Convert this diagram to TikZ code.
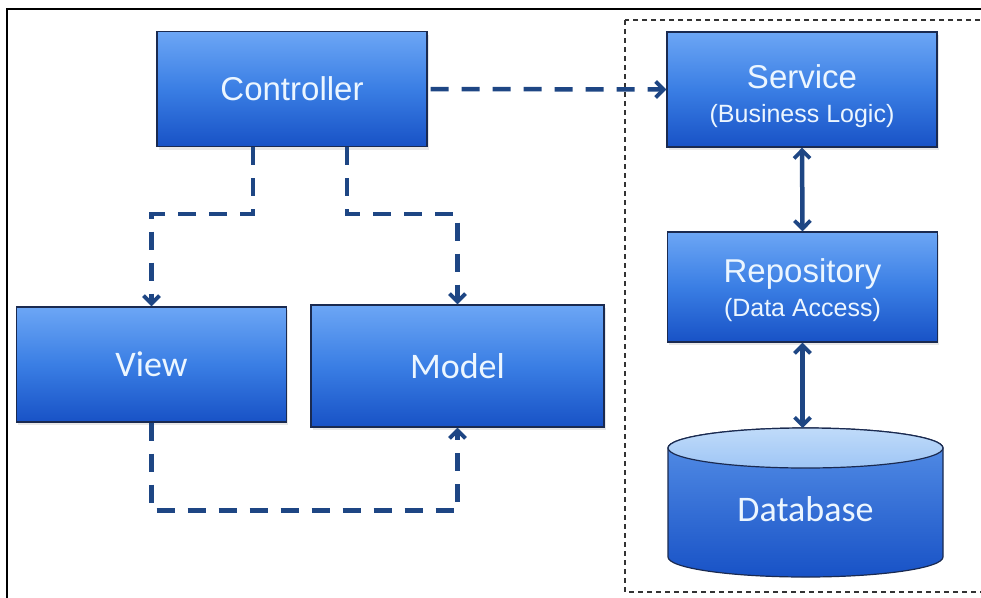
\documentclass[tikz,border=0pt]{standalone}
\usepackage{fontspec}
\setmainfont{Liberation Sans}
\newfontfamily\calfont{Carlito}
\usetikzlibrary{arrows.meta,shadows}

\definecolor{boxtop}{RGB}{108,166,245}
\definecolor{boxmid}{RGB}{58,126,228}
\definecolor{boxbot}{RGB}{24,82,198}
\definecolor{boxline}{RGB}{26,42,80}
\definecolor{linkblue}{RGB}{30,70,132}
\definecolor{labeltxt}{RGB}{236,246,255}
\definecolor{dbcap}{RGB}{176,210,248}

\tikzset{
  layer/.style={rectangle, draw=boxline, line width=1.4pt,
    top color=boxtop, bottom color=boxbot, middle color=boxmid,
    text=labeltxt, align=center, inner sep=0pt,
    minimum width=270pt, minimum height=115pt,
    drop shadow={opacity=0.18, shadow xshift=1.5pt, shadow yshift=-3pt}},
  bigtxt/.style={font=\fontsize{33}{36}\selectfont},
  softtxt/.style={font=\calfont\fontsize{36}{40}\selectfont},
  labelonly/.style={text=labeltxt, align=center, inner sep=0pt},
  barb/.tip={Straight Barb[length=8pt,width=16pt,line width=3.8pt]},
  dashlink/.style={draw=linkblue, line width=4.5pt, dash pattern=on 18pt off 13pt, -barb},
  solidlink/.style={draw=linkblue, line width=4.5pt, barb-barb},
  tierbox/.style={draw=black!80, line width=1.1pt, dash pattern=on 5pt off 4pt},
}

\newcommand{\subline}[1]{{\fontsize{25}{25}\selectfont #1}}

\begin{document}
\begin{tikzpicture}[x=1pt,y=-1pt]
  \useasboundingbox (0,0) rectangle (981,597);
  \clip (0,0) rectangle (981,597);

  % outer frame and the service-tier boundary
  \draw[black, line width=2.4pt] (7,9) rectangle (1000,620);
  \draw[tierbox] (625,20) rectangle (1000,592);

  % MVC side
  \node[layer, bigtxt] (ctrl) at (292,89) {Controller};
  \node[layer, softtxt] (view) at (151.5,364.5) {View};
  \node[layer, softtxt, minimum width=293pt, minimum height=122pt] (model) at (457.5,366) {Model};

  % service tier
  \node[layer] (svc) at (802,89.5) {};
  \node[labelonly, bigtxt] (svctext) at ([yshift=-7pt]svc.center) {Service\\[-2pt]\subline{(Business Logic)}};
  \node[layer, minimum height=110pt] (repo) at (802.5,287) {};
  \node[labelonly, bigtxt] (repotext) at ([yshift=-3pt]repo.center) {Repository\\[-2pt]\subline{(Data Access)}};

  % database cylinder
  \path[draw=boxline, line width=1.2pt, top color=boxmid!85!white, bottom color=boxbot]
    (668,448) -- (668,557)
    arc[start angle=180, end angle=360, x radius=137.5pt, y radius=20pt]
    -- (943,448)
    arc[start angle=0, end angle=180, x radius=137.5pt, y radius=20pt] -- cycle;
  \draw[draw=boxline, line width=1.2pt, top color=dbcap!80!white, bottom color=dbcap!85!boxmid]
    (805.5,448) ellipse [x radius=137.5pt, y radius=20pt];
  \node[labelonly, softtxt] (db) at (805.5,509) {Database};
  \coordinate (dbtop) at (805.5,428);

  % connectors
  \draw[dashlink] ([xshift=3pt]ctrl.east) -- (svc.west);
  \draw[dashlink] ([xshift=-39pt]ctrl.south) -- ++(0,67) -| (view.north);
  \draw[dashlink] ([xshift=55pt]ctrl.south) -- ++(0,67) -| (model.north);
  \draw[dashlink] (view.south) -- ++(0,88) -| (model.south);
  \draw[solidlink] (svc.south) -- (repo.north);
  \draw[solidlink] (repo.south) -- (repo.south |- dbtop);
\end{tikzpicture}
\end{document}
